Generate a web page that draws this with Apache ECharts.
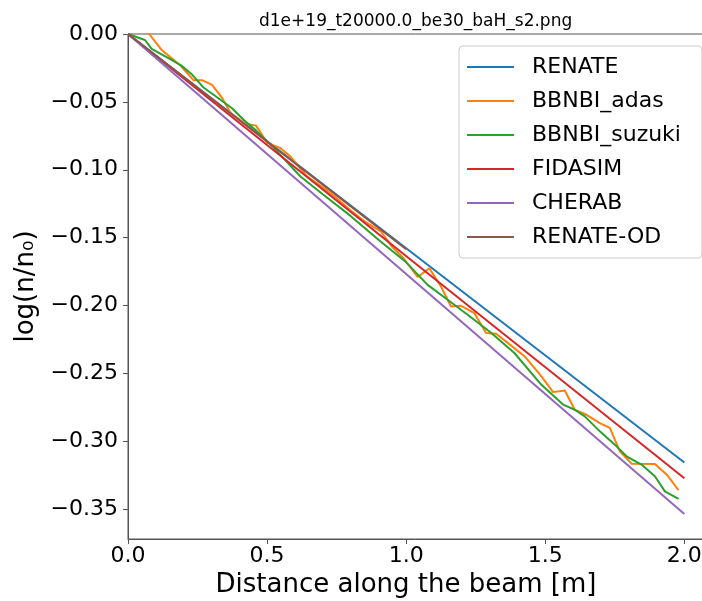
<!DOCTYPE html>
<html>
<head>
<meta charset="utf-8">
<script src="https://cdn.jsdelivr.net/npm/echarts@6/dist/echarts.min.js"></script>
<style>
html,body{margin:0;padding:0;background:#fff;}
#chart{width:702px;height:601px;}
</style>
</head>
<body>
<div id="chart"></div>
<script>
var titleText = 'd1e+19_t20000.0_be30_baH_s2.png';
var seriesNames = ['RENATE', 'BBNBI_adas', 'BBNBI_suzuki', 'FIDASIM', 'CHERAB', 'RENATE-OD'];
var colors = ['#1f77b4', '#ff7f0e', '#2ca02c', '#d62728', '#9467bd', '#8c564b'];

var xTicks = [0, 0.5, 1.0, 1.5, 2.0];
var yTicks = [0, -0.05, -0.10, -0.15, -0.20, -0.25, -0.30, -0.35];

var renateX = [0, 2.0];
var renateY = [0, -0.3157];

var adasX = [0, 0.076, 0.122, 0.1875, 0.235, 0.266, 0.302, 0.338, 0.368, 0.42, 0.46, 0.5, 0.548, 0.584, 0.644, 0.70, 0.75, 0.80, 0.85, 0.909, 0.95, 0.99, 1.041, 1.083, 1.125, 1.161, 1.197, 1.245, 1.287, 1.323, 1.366, 1.426, 1.486, 1.528, 1.570, 1.606, 1.648, 1.696, 1.732, 1.768, 1.810, 1.894, 1.937, 1.979];
var adasY = [0.012, 0.0, -0.012, -0.023, -0.034, -0.034, -0.0375, -0.047, -0.058, -0.066, -0.0675, -0.080, -0.0841, -0.0903, -0.105, -0.113, -0.121, -0.130, -0.138, -0.1455, -0.157, -0.165, -0.179, -0.1725, -0.186, -0.2007, -0.2002, -0.2056, -0.2203, -0.2208, -0.2277, -0.2375, -0.2522, -0.2638, -0.2626, -0.2768, -0.2805, -0.2866, -0.2902, -0.3074, -0.3165, -0.3167, -0.3246, -0.3361];

var suzukiX = [0, 0.061, 0.085, 0.150, 0.192, 0.228, 0.270, 0.325, 0.374, 0.416, 0.46, 0.52, 0.62, 0.70, 0.80, 0.909, 0.999, 1.077, 1.149, 1.221, 1.306, 1.389, 1.486, 1.564, 1.606, 1.642, 1.696, 1.75, 1.792, 1.846, 1.894, 1.93, 1.979];
var suzukiY = [0, -0.0044, -0.011, -0.0184, -0.0233, -0.0294, -0.0392, -0.0473, -0.0547, -0.0633, -0.071, -0.083, -0.105, -0.118, -0.134, -0.153, -0.168, -0.1848, -0.1958, -0.2068, -0.2203, -0.235, -0.2584, -0.273, -0.2768, -0.2817, -0.2927, -0.3025, -0.3111, -0.3172, -0.3258, -0.3369, -0.3425];

var fidasimX = [0, 2.0];
var fidasimY = [0, -0.3272];

var cherabX = [0, 2.0];
var cherabY = [0, -0.3535];

var renateOdX = [0, 1.0];
var renateOdY = [0, -0.1585];

function pairs(xs, ys) { return xs.map(function (x, i) { return [x, ys[i]]; }); }

var allData = [
  pairs(renateX, renateY),
  pairs(adasX, adasY),
  pairs(suzukiX, suzukiY),
  pairs(fidasimX, fidasimY),
  pairs(cherabX, cherabY),
  pairs(renateOdX, renateOdY)
];

var FONT = 'DejaVu Sans';

var chart = echarts.init(document.getElementById('chart'), null, {renderer: 'canvas'});
chart.setOption({
  animation: false,
  backgroundColor: '#fff',
  textStyle: {fontFamily: FONT},
  title: {
    text: titleText,
    left: 259, top: 13, padding: 0,
    textStyle: {fontFamily: FONT, fontSize: 17, fontWeight: 'normal', color: '#000'}
  },
  grid: {
    left: 128, top: 34, width: 580, bottom: 62,
    outerBoundsMode: 'none',
    containLabel: false,
    show: true, borderColor: '#555', borderWidth: 1
  },
  legend: {
    orient: 'vertical',
    left: 459, top: 46,
    padding: [9, 21, 9, 8],
    icon: 'rect',
    itemWidth: 47, itemHeight: 2, itemGap: 10,
    backgroundColor: 'rgba(255,255,255,0.8)',
    borderColor: '#cccccc', borderWidth: 1, borderRadius: 4,
    textStyle: {fontFamily: FONT, fontSize: 22, color: '#000', lineHeight: 24, padding: [0, 0, 0, 13]},
    data: seriesNames
  },
  xAxis: {
    type: 'value', min: 0, max: 2.085,
    name: 'Distance along the beam [m]',
    nameLocation: 'middle', nameGap: 31,
    nameTextStyle: {fontFamily: FONT, fontSize: 26, color: '#000', padding: [0, 24, 0, 0]},
    axisLine: {show: true, onZero: false, lineStyle: {color: '#555', width: 1}},
    axisTick: {show: true, inside: false, length: 5, lineStyle: {color: '#555'}, customValues: xTicks},
    axisLabel: {
      fontFamily: FONT, fontSize: 22, color: '#000', margin: 6,
      customValues: xTicks,
      formatter: function (v) { return v.toFixed(1); }
    },
    splitLine: {show: false}
  },
  yAxis: {
    type: 'value', min: -0.372, max: 0,
    name: 'log(n/n\u2080)',
    nameLocation: 'middle', nameGap: 80,
    nameTextStyle: {fontFamily: FONT, fontSize: 26, color: '#000'},
    axisLine: {show: true, onZero: false, lineStyle: {color: '#555', width: 1}},
    axisTick: {show: true, inside: false, length: 5, lineStyle: {color: '#555'}, customValues: yTicks},
    axisLabel: {
      fontFamily: FONT, fontSize: 22, color: '#000', margin: 10,
      customValues: yTicks,
      formatter: function (v) { return (v < -1e-9 ? '\u2212' : '') + Math.abs(v).toFixed(2); }
    },
    splitLine: {show: false}
  },
  series: seriesNames.map(function (n, i) {
    return {
      name: n, type: 'line', data: allData[i],
      symbol: 'none', showSymbol: false, clip: true,
      color: colors[i],
      lineStyle: {color: colors[i], width: 2},
      itemStyle: {color: colors[i]},
      emphasis: {disabled: true}
    };
  })
});
</script>
</body>
</html>
